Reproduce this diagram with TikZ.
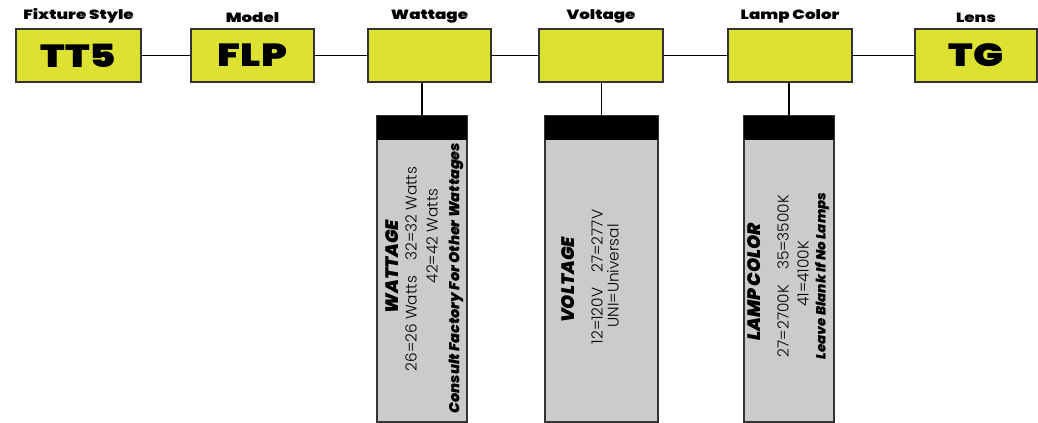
\documentclass[tikz,border=0pt]{standalone}
\usepackage{fontspec}
\setmainfont{Poppins}
\newfontfamily\lightfont{Poppins Light}
\newfontfamily\heavyfont{Poppins Black}
\newfontfamily\wideheavy{Poppins Black}[FakeStretch=1.25]
\usetikzlibrary{positioning}
\definecolor{codeyellow}{HTML}{DDE232}
\definecolor{panelgray}{HTML}{CBCBCB}
\definecolor{edgegray}{HTML}{333333}

\begin{document}
\begin{tikzpicture}[
  x=0.75pt, y=-0.75pt,
  codebox/.style={draw=edgegray, line width=1pt, fill=codeyellow, inner sep=0pt,
                  minimum height=39.75pt, font=\wideheavy\fontsize{24}{26}\selectfont},
  headlbl/.style={font=\wideheavy\fontsize{10}{11}\selectfont, inner sep=0pt, label distance=4pt},
  panel/.style={draw=edgegray, line width=1pt, fill=panelgray, inner sep=0pt,
                minimum height=229.5pt},
  panelhead/.style={fill=black, inner sep=0pt, minimum height=18pt, anchor=north},
  ptitle/.style={rotate=90, inner sep=0pt, font=\heavyfont\itshape\fontsize{13.5}{15}\selectfont},
  pline/.style={rotate=90, inner sep=0pt, font=\lightfont\fontsize{11.5}{13}\selectfont},
  pnote/.style={rotate=90, inner sep=0pt, font=\heavyfont\itshape\fontsize{10}{11}\selectfont},
  conn/.style={draw=black, line width=1pt}
]
\useasboundingbox (0,0) rectangle (1038,423);

% code boxes
\node[codebox, minimum width=93.75pt, label={[headlbl]above:Fixture Style}] (fixbox) at (78.5,55.5) {TT5};
\node[codebox, minimum width=92.25pt, label={[headlbl]above:Model}] (modelbox) at (252.5,55.5) {FLP};
\node[codebox, minimum width=92.25pt, label={[headlbl]above:Wattage}] (wattbox) at (429.5,55.5) {};
\node[codebox, minimum width=93pt, label={[headlbl]above:Voltage}] (voltbox) at (601,55.5) {};
\node[codebox, minimum width=93pt, label={[headlbl]above:Lamp Color}] (lampbox) at (790,55.5) {};
\node[codebox, minimum width=91.5pt, label={[headlbl]above:Lens}] (lensbox) at (976,55.5) {TG};

\draw[conn] (fixbox) -- (modelbox);
\draw[conn] (modelbox) -- (wattbox);
\draw[conn] (wattbox) -- (voltbox);
\draw[conn] (voltbox) -- (lampbox);
\draw[conn] (lampbox) -- (lensbox);

% option panels
\node[panel, minimum width=67.5pt] (wattpanel) at (422,269) {};
\node[panelhead, minimum width=67.5pt] (watthead) at (wattpanel.north) {};
\node[panel, minimum width=84.75pt] (voltpanel) at (601.5,269) {};
\node[panelhead, minimum width=84.75pt] (volthead) at (voltpanel.north) {};
\node[panel, minimum width=67.5pt] (lamppanel) at (789,269) {};
\node[panelhead, minimum width=67.5pt] (lamphead) at (lamppanel.north) {};

\draw[conn] (watthead.north) -- (watthead.north |- wattbox.south);
\draw[conn] (volthead.north) -- (volthead.north |- voltbox.south);
\draw[conn] (lamphead.north) -- (lamphead.north |- lampbox.south);

% panel texts
\node[ptitle] (watttitle) at (392,267) {WATTAGE};
\node[pline] (wattopt) at (411,269) {26=26 Watts\quad 32=32 Watts};
\node[pline] (wattmore) at (432,236) {42=42 Watts};
\node[pnote, font=\heavyfont\itshape\fontsize{10.8}{12}\selectfont] (wattnote) at (456,278) {Consult Factory For Other Wattages};

\node[ptitle] (volttitle) at (568,280) {VOLTAGE};
\node[pline] (voltopt) at (597,277) {12=120V\quad 27=277V};
\node[pline] (voltmore) at (613,276) {UNI=Universal};

\node[ptitle] (lamptitle) at (754,282) {LAMP COLOR};
\node[pline] (lampopt) at (783,276) {27=2700K\quad 35=3500K};
\node[pline] (lampmore) at (803,274) {41=4100K};
\node[pnote] (lampnote) at (822,276) {Leave Blank If No Lamps};
\end{tikzpicture}
\end{document}
